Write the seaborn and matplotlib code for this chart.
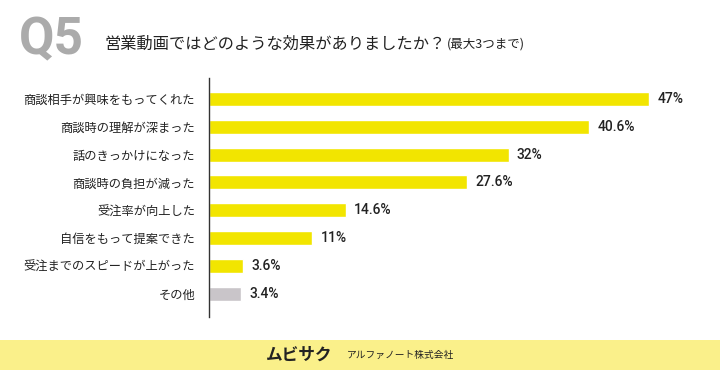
import matplotlib
matplotlib.use("Agg")
import matplotlib.pyplot as plt
import seaborn as sns
import pandas as pd

categories = ["商談相手が興味をもってくれた", "商談時の理解が深まった", "話のきっかけになった",
              "商談時の負担が減った", "受注率が向上した", "自信をもって提案できた",
              "受注までのスピードが上がった", "その他"]
values = [47, 40.6, 32, 27.6, 14.6, 11, 3.6, 3.4]
value_labels = ["47%", "40.6%", "32%", "27.6%", "14.6%", "11%", "3.6%", "3.4%"]
title = "営業動画ではどのような効果がありましたか？"
subtitle = "(最大3つまで)"
qlabel = "Q5"

sns.set_theme(style="white")
plt.rcParams['font.family'] = ['Noto Sans CJK JP', 'DejaVu Sans']

df = pd.DataFrame({"cat": categories, "val": values})
colors = ["#F2E500"] * (len(categories) - 1) + ["#C9C5C9"]

fig = plt.figure(figsize=(7.2, 3.7), dpi=100)
fig.patch.set_facecolor("white")
ax = fig.add_axes([209/720, 1-317/370, 468/720, (317-78)/370])
sns.barplot(data=df, x="val", y="cat", hue="cat", palette=colors, legend=False,
            width=0.5, ax=ax, saturation=1)
ax.set_xlim(0, 50)
ax.set_ylim(7.83, -0.75)
ax.set_xlabel("")
ax.set_ylabel("")
ax.set_xticks([])
for s in ["top", "right", "bottom"]:
    ax.spines[s].set_visible(False)
ax.spines["left"].set_color("#333333")
ax.spines["left"].set_linewidth(1.0)
ax.tick_params(axis="y", length=0, pad=10, labelsize=8.8, labelcolor="#222222")
ax.set_facecolor("none")

for i, (v, lab) in enumerate(zip(values, value_labels)):
    ax.text(v + 0.9, i, lab, va="center", ha="left", fontsize=10,
            color="#222222", fontweight="medium", family=["Roboto", "DejaVu Sans"])

fig.text(19/720, 1-40/370, qlabel, fontsize=37, fontweight="bold", color="#ABABAB",
         ha="left", va="center", family=["Roboto", "DejaVu Sans"])
fig.text(105/720, 1-44/370, title, fontsize=11.7, color="#222222", ha="left", va="center")
fig.text(447/720, 1-44/370, subtitle, fontsize=9, color="#222222", ha="left", va="center")

# footer band
band = plt.Rectangle((0, 0), 1, 30/370, transform=fig.transFigure,
                     facecolor="#FAF08A", edgecolor="none", zorder=0)
fig.patches.append(band)
fig.text(299/720, 1-355/370, "ムビサク", fontsize=12, fontweight="bold", color="#222222",
         ha="center", va="center")
fig.text(400/720, 1-355/370, "アルファノート株式会社", fontsize=7, color="#222222",
         ha="center", va="center")

fig.savefig("out.png", dpi=100)
